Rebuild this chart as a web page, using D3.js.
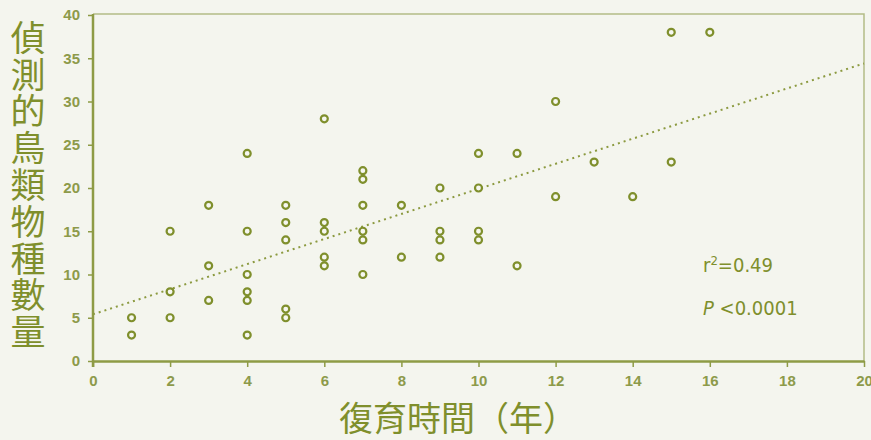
<!DOCTYPE html>
<html>
<head>
<meta charset="utf-8">
<script src="https://cdn.jsdelivr.net/npm/d3@7"></script>
<style>
  body { margin: 0; background: #f4f5ee; }
  svg { display: block; }
</style>
</head>
<body>
<div id="chart"></div>
<script>
// years of restoration vs number of bird species observed
const years = [1, 1, 2, 2, 2, 3, 3, 3, 4, 4, 4, 4, 4, 4, 5, 5, 5, 5, 5, 6, 6, 6, 6, 6,
  7, 7, 7, 7, 7, 7, 8, 8, 9, 9, 9, 9, 10, 10, 10, 10, 11, 11, 12, 12, 13, 14, 15, 15, 16]
const species = [5, 3, 15, 8, 5, 18, 11, 7, 24, 15, 10, 8, 7, 3, 18, 16, 14, 6, 5, 28, 16, 15, 12, 11,
  22, 21, 18, 15, 14, 10, 18, 12, 20, 15, 14, 12, 24, 20, 15, 14, 24, 11, 30, 19, 23, 19, 38, 23, 38]
const trendX = [0, 20]
const trendY = [5.4, 34.4]
const xTicks = [0, 2, 4, 6, 8, 10, 12, 14, 16, 18, 20]
const yTicks = [0, 5, 10, 15, 20, 25, 30, 35, 40]
const yTitle = "偵測的鳥類物種數量"
const xTitle = "復育時間（年）"
const notes = ["r²=0.49", "P <0.0001"]

const W = 871, H = 440
const mLeft = 93, mRight = 864, mTop = 15, mBottom = 361
const olive = "#7f8f2c"

const svg = d3.select("#chart").append("svg")
  .attr("width", W).attr("height", H)

svg.append("rect").attr("width", W).attr("height", H).attr("fill", "#f4f5ee")

const x = d3.scaleLinear().domain([0, 20]).range([mLeft, mRight])
const y = d3.scaleLinear().domain([0, 40]).range([mBottom, mTop])

// frame top + right
svg.append("path")
  .attr("d", `M${mLeft},${mTop - 1}H${mRight}V${mBottom}`)
  .attr("fill", "none").attr("stroke", "#b3bc86").attr("stroke-width", 1.5)

const xAxis = svg.append("g")
  .attr("transform", `translate(0,${mBottom})`)
  .call(d3.axisBottom(x).tickValues(xTicks).tickSize(6).tickPadding(8).tickSizeOuter(0))
const yAxis = svg.append("g")
  .attr("transform", `translate(${mLeft},0)`)
  .call(d3.axisLeft(y).tickValues(yTicks).tickSize(5).tickPadding(8).tickSizeOuter(0))

;[xAxis, yAxis].forEach(g => {
  g.select(".domain").attr("stroke", "#8e9b45").attr("stroke-width", 2.5)
  g.selectAll(".tick line").attr("stroke", "#8e9b45").attr("stroke-width", 1.5)
  g.selectAll(".tick text")
    .attr("fill", "#8d9a4a")
    .style("font-family", "'Liberation Sans Narrow', 'Liberation Sans', Arial, sans-serif")
    .style("font-weight", "bold")
    .style("font-size", "15px")
})
// y axis runs a little below zero
yAxis.select(".domain").attr("d", `M0,${mTop - 1}V${mBottom + 6}`)

// trend line
svg.append("line")
  .attr("x1", x(trendX[0])).attr("y1", y(trendY[0]))
  .attr("x2", x(trendX[1])).attr("y2", y(trendY[1]))
  .attr("stroke", "#8c9a40").attr("stroke-width", 2)
  .attr("stroke-dasharray", "2,4")

// points
svg.append("g").selectAll("circle")
  .data(years.map((d, i) => [d, species[i]]))
  .join("circle")
  .attr("cx", d => x(d[0]))
  .attr("cy", d => y(d[1]))
  .attr("r", 3.5)
  .attr("fill", "#f6f7f0")
  .attr("stroke", olive)
  .attr("stroke-width", 2.2)

// y title, written vertically
svg.append("text")
  .attr("x", 28).attr("y", 20)
  .attr("fill", olive)
  .style("writing-mode", "vertical-rl")
  .style("text-orientation", "upright")
  .style("letter-spacing", "1.8px")
  .style("font-family", "'Noto Sans CJK TC', sans-serif")
  .style("font-size", "35px")
  .text(yTitle)

// x title
svg.append("text")
  .attr("x", 458).attr("y", 431)
  .attr("text-anchor", "middle")
  .attr("fill", olive)
  .style("font-family", "'Noto Sans CJK TC', sans-serif")
  .style("font-size", "34px")
  .text(xTitle)

// stats
const noteFont = "'DejaVu Sans Condensed', 'DejaVu Sans', sans-serif"
const r2 = svg.append("text").attr("x", 703).attr("y", 272)
  .attr("fill", olive).style("font-family", noteFont).style("font-size", "20px")
r2.append("tspan").text("r")
r2.append("tspan").attr("dy", -7).style("font-size", "13px").text("2")
r2.append("tspan").attr("dy", 7).text(notes[0].slice(2))

const p = svg.append("text").attr("x", 703).attr("y", 315)
  .attr("fill", olive).style("font-family", noteFont).style("font-size", "20px")
p.append("tspan").style("font-style", "italic").text(notes[1].slice(0, 1))
p.append("tspan").text(notes[1].slice(1))
</script>
</body>
</html>
